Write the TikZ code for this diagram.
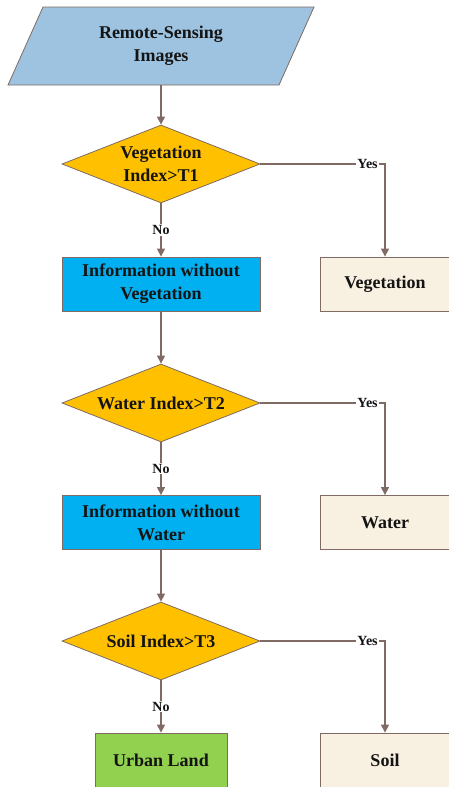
\documentclass[tikz,border=0pt]{standalone}
\usepackage{fontspec}
\setmainfont{Liberation Serif}
\usetikzlibrary{shapes.geometric,arrows.meta}
\definecolor{lnc}{HTML}{7F6B63}
\definecolor{imgblue}{HTML}{9DC3E0}
\definecolor{decy}{HTML}{FFC000}
\definecolor{infoc}{HTML}{00B0F0}
\definecolor{resc}{HTML}{F8F0E1}
\definecolor{urbc}{HTML}{92D050}
\begin{document}
\begin{tikzpicture}[x=1pt,y=-1pt,
  every node/.style={font=\fontsize{18}{23}\selectfont\bfseries, text=black!92},
  decision/.style={diamond, draw=lnc, line width=0.8pt, fill=decy, aspect=2.5, inner sep=0pt,
    minimum width=198pt, minimum height=78pt, align=center},
  infobox/.style={rectangle, draw=lnc, line width=0.8pt, fill=infoc, minimum width=198pt,
    minimum height=54pt, align=center, inner sep=0pt},
  resbox/.style={rectangle, draw=lnc, line width=0.8pt, fill=resc, minimum width=130pt,
    minimum height=54pt, align=center, inner sep=0pt},
  urbbox/.style={rectangle, draw=lnc, line width=0.8pt, fill=urbc, minimum width=132pt,
    minimum height=54pt, align=center, inner sep=0pt},
  conn/.style={draw=lnc, line width=1.3pt, -{Triangle[length=8pt,width=8pt]}},
  lbl/.style={font=\fontsize{14}{16}\selectfont\bfseries, fill=white, inner sep=1pt}]
\useasboundingbox (0,0) rectangle (449,787);
% input parallelogram
\fill[imgblue, draw=lnc, line width=0.8pt] (43,7) -- (314,7) -- (279,85) -- (8,85) -- cycle;
\node[minimum width=200pt, minimum height=78pt, inner sep=0pt, align=center] (img) at (161,46) {Remote-Sensing\\Images};
% decisions
\node[decision] (d1) at (161,164) {Vegetation\\Index>T1};
\node[decision] (d2) at (161,403) {Water Index>T2};
\node[decision] (d3) at (161,641) {Soil Index>T3};
% boxes
\node[infobox] (i1) at (161,284) {Information without\\Vegetation};
\node[infobox] (i2) at (161,522.5) {Information without\\Water};
\node[urbbox] (urb) at (161,760) {Urban Land};
\node[resbox] (veg) at (385,284) {Vegetation};
\node[resbox] (wat) at (385,522.5) {Water};
\node[resbox] (soil) at (385,760) {Soil};
% connectors
\draw[conn] (img.south) -- (d1.north);
\draw[conn] (d1.south) -- node[lbl, pos=0.5] {No} (i1.north);
\draw[conn] (d1.east) -| node[lbl, pos=0.43] {Yes} (veg.north);
\draw[conn] (i1.south) -- (d2.north);
\draw[conn] (d2.south) -- node[lbl, pos=0.5] {No} (i2.north);
\draw[conn] (d2.east) -| node[lbl, pos=0.43] {Yes} (wat.north);
\draw[conn] (i2.south) -- (d3.north);
\draw[conn] (d3.south) -- node[lbl, pos=0.5] {No} (urb.north);
\draw[conn] (d3.east) -| node[lbl, pos=0.43] {Yes} (soil.north);
\end{tikzpicture}
\end{document}
